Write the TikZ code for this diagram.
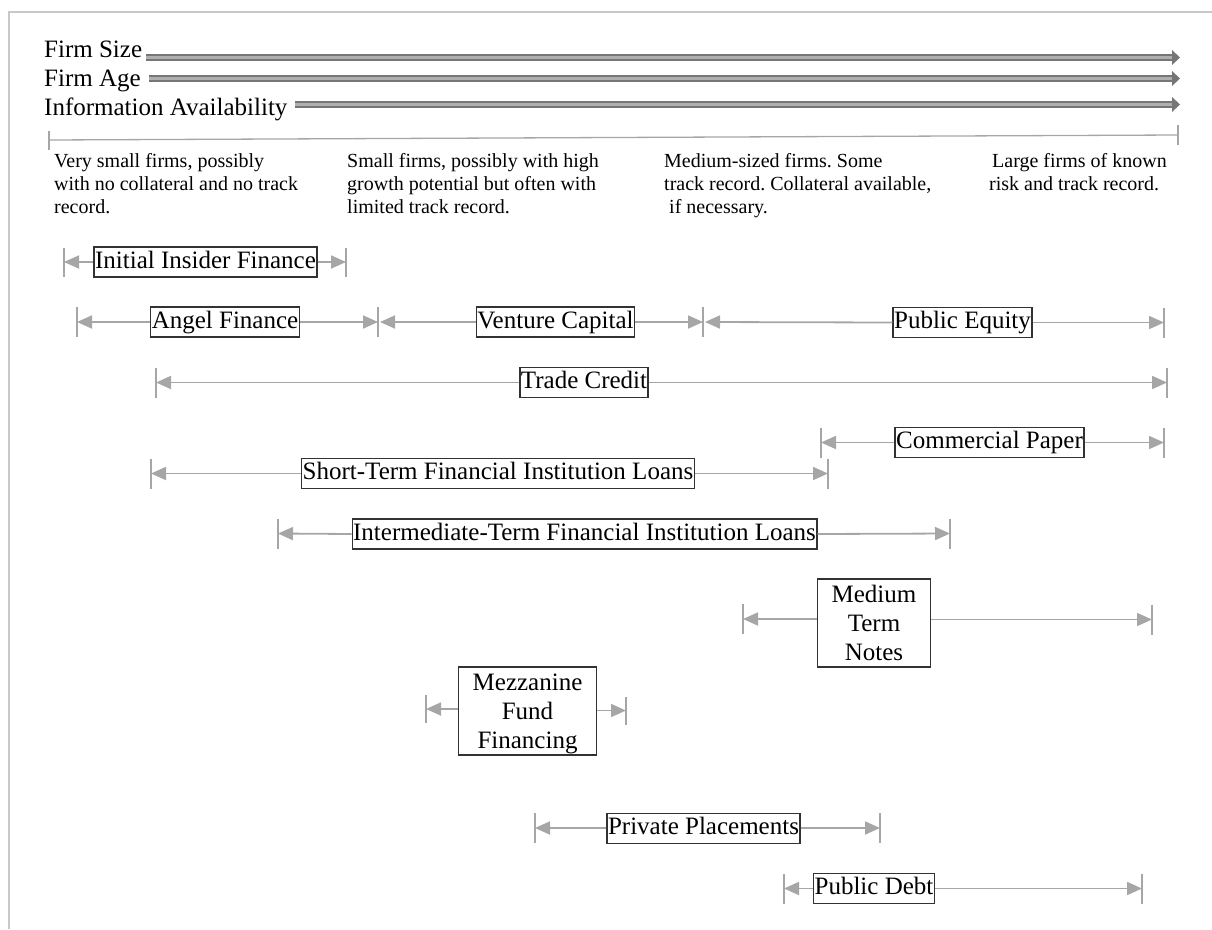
\documentclass[tikz,border=0pt]{standalone}
\usepackage{fontspec}
\setmainfont{Liberation Serif}
\usetikzlibrary{arrows.meta}
\definecolor{rngc}{RGB}{166,166,166}
\definecolor{boxc}{RGB}{50,50,50}
\definecolor{bigdark}{RGB}{118,118,118}
\definecolor{biglight}{RGB}{175,175,175}
\definecolor{framec}{RGB}{200,200,200}
\frenchspacing
\begin{document}
\begin{tikzpicture}[x=1pt,y=-1pt,
  lbl/.style={draw=boxc, line width=1.3pt, fill=white, font=\fontsize{25}{29}\selectfont, inner xsep=1pt, inner ysep=3pt, text height=18pt, text depth=6pt},
  mlbl/.style={draw=boxc, line width=1.3pt, fill=white, font=\fontsize{25}{29}\selectfont, align=center, inner xsep=14pt, minimum height=88pt},
  rng/.style={draw=rngc, line width=1.8pt, -{Triangle[length=15pt,width=13pt]}},
  tickln/.style={draw=rngc, line width=1.5pt},
  bigtxt/.style={font=\fontsize{25}{29}\selectfont, inner sep=0pt, anchor=base west},
  desc/.style={font=\fontsize{20}{23}\selectfont, align=left, inner sep=0pt, anchor=north west},
  bigshaft/.style={draw=bigdark, line width=6.5pt},
  bigstripe/.style={draw=biglight, line width=2.2pt},
]
\useasboundingbox (0,0) rectangle (1212,929);
% frame
\draw[framec, line width=2pt] (8,11.5) -- (1212,11.5);
\draw[framec, line width=2pt] (9,11.5) -- (9,929);

% top labels and big arrows
\node[bigtxt] (fs) at (44,57) {Firm Size};
\node[bigtxt] (fa) at (44,86) {Firm Age};
\node[bigtxt] (ia) at (44,115) {Information Availability};
\coordinate (fsA) at (146,57.5); \coordinate (fsB) at (1180,57.5);
\coordinate (faA) at (149,78.5); \coordinate (faB) at (1180,78.5);
\coordinate (iaA) at (295,104.5);\coordinate (iaB) at (1180,104.5);
\foreach \n in {fs,fa,ia}{
  \draw[bigshaft] (\n A) -- ([xshift=-7pt]\n B);
  \draw[bigstripe] (\n A) -- ([xshift=-7pt]\n B);
  \fill[bigdark] (\n B) -- ++(-8,-7.5) -- ++(0,15) -- cycle;
}

% scale line
\coordinate (scL) at (49,140);
\coordinate (scR) at (1178,135);
\draw[tickln, line width=1.3pt] (scL) -- (scR);
\draw[tickln, line width=1.3pt] ([yshift=9pt]scL) -- ([yshift=-10pt]scL);
\draw[tickln, line width=1.3pt] ([yshift=10pt]scR) -- ([yshift=-10pt]scR);

% descriptions
\node[desc] (d1) at (54,153) {Very small firms, possibly\\with no collateral and no track\\record.};
\node[desc] (d2) at (347,153) {Small firms, possibly with high\\growth potential but often with\\limited track record.};
\node[desc] (d3) at (664,153) {Medium-sized firms. Some\\track record. Collateral available,\\\hspace*{5pt}if necessary.};
\node[desc] (d4) at (989,153) {\hspace*{3pt}Large firms of known\\risk and track record.};

% Initial insider finance
\node[lbl] (iif) at (205.5,262) {Initial Insider Finance};
\coordinate (iifL) at (64,262); \coordinate (iifR) at (346,262);
\draw[rng] (iif.west) -- (iifL); \draw[rng] (iif.east) -- (iifR);
\draw[tickln] ([yshift=14.5pt]iifL) -- ([yshift=-14.5pt]iifL);
\draw[tickln] ([yshift=14.5pt]iifR) -- ([yshift=-14.5pt]iifR);

% Angel / VC / Public equity
\node[lbl] (ang) at (225,322) {Angel Finance};
\coordinate (angL) at (77,322); \coordinate (angR) at (378,322);
\draw[rng] (ang.west) -- (angL); \draw[rng] (ang.east) -- (angR);
\node[lbl] (vc) at (555.5,322) {Venture Capital};
\coordinate (vcL) at (380,322); \coordinate (vcR) at (703,322);
\draw[rng] (vc.west) -- (vcL); \draw[rng] (vc.east) -- (vcR);
\node[lbl] (pe) at (962.5,322.5) {Public Equity};
\coordinate (peL) at (705,322); \coordinate (peR) at (1164,322.5);
\draw[rng] (pe.west) -- (peL); \draw[rng] (pe.east) -- (peR);
\foreach \c in {angL,angR,vcR,peR}{
  \draw[tickln] ([yshift=15pt]\c) -- ([yshift=-15pt]\c);
}

% Trade credit
\node[lbl] (tc) at (584,382.5) {Trade Credit};
\coordinate (tcL) at (156,382.5); \coordinate (tcR) at (1167,382.5);
\draw[rng] (tc.west) -- (tcL); \draw[rng] (tc.east) -- (tcR);
\draw[tickln] ([yshift=15pt]tcL) -- ([yshift=-15pt]tcL);
\draw[tickln] ([yshift=15pt]tcR) -- ([yshift=-15pt]tcR);

% Commercial paper
\node[lbl] (cp) at (989.5,442.5) {Commercial Paper};
\coordinate (cpL) at (821,442.5); \coordinate (cpR) at (1164,442.5);
\draw[rng] (cp.west) -- (cpL); \draw[rng] (cp.east) -- (cpR);
\draw[tickln] ([yshift=15pt]cpL) -- ([yshift=-15pt]cpL);
\draw[tickln] ([yshift=15pt]cpR) -- ([yshift=-15pt]cpR);

% Short-term loans
\node[lbl] (st) at (498,473.5) {Short-Term Financial Institution Loans};
\coordinate (stL) at (151,473.5); \coordinate (stR) at (828,473.5);
\draw[rng] (st.west) -- (stL); \draw[rng] (st.east) -- (stR);
\draw[tickln] ([yshift=15pt]stL) -- ([yshift=-15pt]stL);
\draw[tickln] ([yshift=15pt]stR) -- ([yshift=-15pt]stR);

% Intermediate-term loans
\node[lbl] (it) at (584.5,534) {Intermediate-Term Financial Institution Loans};
\coordinate (itL) at (278,533.5); \coordinate (itR) at (950,533.5);
\draw[rng] (it.west) -- (itL); \draw[rng] (it.east) -- (itR);
\draw[tickln] ([yshift=15pt]itL) -- ([yshift=-15pt]itL);
\draw[tickln] ([yshift=15pt]itR) -- ([yshift=-15pt]itR);

% Medium term notes
\node[mlbl] (mtn) at (874,623) {Medium\\Term\\Notes};
\coordinate (mtnL) at (743,619); \coordinate (mtnR) at (1152,619.5);
\draw[rng] (mtnL -| mtn.west) -- (mtnL); \draw[rng] (mtnR -| mtn.east) -- (mtnR);
\draw[tickln] ([yshift=15pt]mtnL) -- ([yshift=-15pt]mtnL);
\draw[tickln] ([yshift=15pt]mtnR) -- ([yshift=-15pt]mtnR);

% Mezzanine
\node[mlbl] (mz) at (527.5,711) {Mezzanine\\Fund\\\smash{Financing}};
\coordinate (mzL) at (426,709); \coordinate (mzR) at (626,710.5);
\draw[rng] (mzL -| mz.west) -- (mzL); \draw[rng] (mzR -| mz.east) -- (mzR);
\draw[tickln] ([yshift=14pt]mzL) -- ([yshift=-14pt]mzL);
\draw[tickln] ([yshift=14pt]mzR) -- ([yshift=-14pt]mzR);

% Private placements
\node[lbl] (pp) at (703.5,828.5) {Private Placements};
\coordinate (ppL) at (535,828); \coordinate (ppR) at (880,828);
\draw[rng] (ppL -| pp.west) -- (ppL); \draw[rng] (ppR -| pp.east) -- (ppR);
\draw[tickln] ([yshift=15pt]ppL) -- ([yshift=-15pt]ppL);
\draw[tickln] ([yshift=15pt]ppR) -- ([yshift=-15pt]ppR);

% Public debt
\node[lbl] (pd) at (874,888.5) {Public Debt};
\coordinate (pdL) at (784,888.5); \coordinate (pdR) at (1142,888.5);
\draw[rng] (pd.west) -- (pdL); \draw[rng] (pd.east) -- (pdR);
\draw[tickln] ([yshift=15pt]pdL) -- ([yshift=-15pt]pdL);
\draw[tickln] ([yshift=15pt]pdR) -- ([yshift=-15pt]pdR);
\end{tikzpicture}
\end{document}
